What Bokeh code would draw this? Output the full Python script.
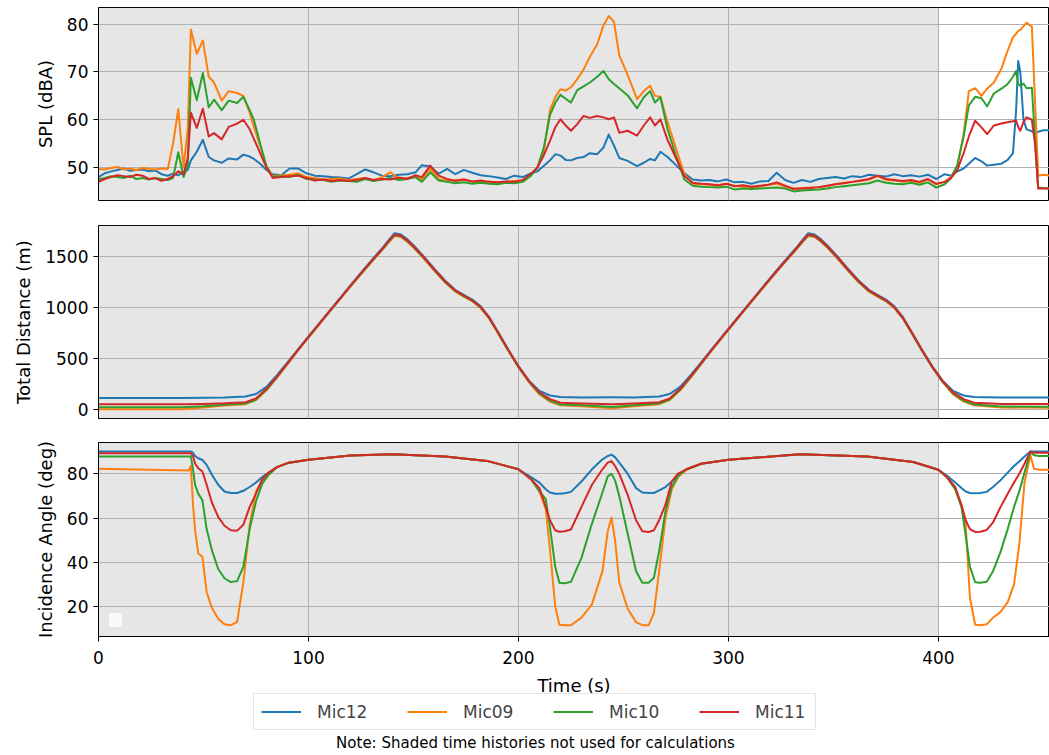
from bokeh.plotting import figure
from bokeh.models import Range1d, FixedTicker, BoxAnnotation, Legend, LegendItem, Label
from bokeh.layouts import column
from bokeh.embed import file_html
from bokeh.resources import INLINE

mics = ["Mic12", "Mic09", "Mic10", "Mic11"]
colors = ["#1f77b4", "#ff7f0e", "#2ca02c", "#d62728"]

x_ticks = [0, 100, 200, 300, 400]
spl_ticks = [50, 60, 70, 80]
dist_ticks = [0, 500, 1000, 1500]
ang_ticks = [20, 40, 60, 80]
shade_start = 0
shade_end = 400
x_label = "Time (s)"
note = "Note: Shaded time histories not used for calculations"

# ---------------- SPL (dBA) ----------------
t_spl = [0, 3, 6, 9, 12, 15, 18, 21, 24, 27,
         30, 33, 35.5, 38, 40.5, 42.5, 44, 46.8, 49.7, 52.5,
         55, 58.7, 62, 66, 69, 72, 74, 77, 80, 83,
         87, 91, 95, 99, 103, 107, 111, 115, 119, 123,
         127, 131, 135, 139, 143, 147, 151, 154, 158, 162,
         166, 170, 174, 178, 182, 186, 190, 194, 198, 202,
         206, 209, 212, 215, 217.6, 220, 222.5, 225, 228, 231,
         234, 237.5, 240.5, 243, 245.5, 248, 252, 256.5, 259.7, 262.7,
         265, 267.6, 271, 275, 279, 283, 287, 291, 295, 299,
         303, 307, 311, 315, 319, 323, 327, 331, 335, 339,
         343, 347, 351, 355, 359, 363, 367, 371, 375, 379,
         383, 387, 391, 395, 399, 403, 406, 409, 412, 414.5,
         417.5, 420.5, 423.2, 426.4, 430, 433, 435.5, 437, 438, 439,
         440.5, 442, 444.5, 446, 447.5, 450, 453]

spl_mic12 = [48.0, 48.8, 49.2, 49.5, 49.8, 49.3, 49.5, 49.6, 49.2, 49.4,
             48.6, 48.3, 48.7, 48.4, 49.0, 49.5, 51.5, 53.3, 55.8, 52.2,
             51.5, 51.0, 51.9, 51.7, 52.7, 52.3, 51.8, 50.8, 49.5, 48.6,
             48.4, 49.8, 49.8, 48.8, 48.3, 48.2, 48.0, 47.9, 47.7, 48.6,
             49.6, 49.0, 48.3, 48.2, 48.5, 48.6, 49.0, 50.5, 50.2, 48.7,
             49.7, 48.6, 49.5, 48.9, 48.4, 48.2, 47.9, 47.6, 48.3, 48.0,
             48.8, 49.2, 50.3, 51.5, 52.8, 52.5, 51.6, 51.5, 52.0, 52.2,
             53.0, 52.8, 54.2, 56.9, 54.6, 52.0, 51.4, 50.3, 51.0, 51.8,
             51.5, 53.3, 52.2, 50.5, 48.8, 47.5, 47.3, 47.4, 47.1, 47.5,
             46.9, 47.0, 46.6, 47.1, 47.2, 48.9, 47.4, 46.8, 47.4, 47.0,
             47.6, 47.8, 48.0, 47.7, 48.2, 48.0, 48.5, 48.3, 48.1, 48.6,
             48.2, 48.4, 48.1, 48.5, 47.6, 48.6, 48.3, 49.2, 49.8, 50.8,
             52.0, 51.3, 50.4, 50.6, 50.8, 51.6, 53.0, 62.0, 72.3, 70.0,
             60.0, 58.0, 57.6, 57.2, 57.5, 57.8, 57.8]

spl_mic09 = [49.7, 49.6, 49.9, 50.1, 49.6, 49.8, 49.5, 49.9, 49.7, 49.6,
             49.8, 49.7, 55.0, 62.2, 50.0, 58.0, 78.9, 73.8, 76.6, 69.0,
             67.8, 64.0, 66.0, 65.6, 65.0, 61.5, 58.5, 54.5, 50.3, 48.2,
             48.4, 48.5, 48.8, 48.0, 47.8, 47.5, 47.6, 47.7, 47.4, 47.6,
             47.8, 47.3, 48.0, 49.0, 47.6, 47.8, 48.0, 47.6, 49.7, 47.6,
             47.2, 47.4, 47.5, 47.0, 46.9, 47.1, 46.8, 47.0, 47.2, 47.3,
             48.5, 50.0, 53.0, 62.0, 64.8, 66.4, 66.1, 66.8, 68.5, 70.5,
             73.2, 75.8, 79.8, 81.7, 80.5, 73.5, 69.4, 64.3, 66.0, 67.1,
             65.0, 64.8, 59.5, 54.0, 48.6, 46.6, 46.5, 46.4, 46.2, 46.6,
             46.2, 46.0, 45.9, 46.0, 46.4, 46.6, 46.0, 45.6, 45.7, 45.8,
             45.9, 46.1, 46.5, 46.8, 47.0, 47.2, 47.5, 48.2, 47.4, 47.3,
             47.0, 47.2, 46.8, 47.5, 46.5, 47.0, 48.0, 50.3, 57.0, 66.0,
             66.6, 65.0, 66.5, 67.8, 70.7, 74.5, 77.3, 78.0, 78.6, 78.8,
             79.6, 80.3, 79.5, 64.0, 48.3, 48.5, 48.3]

spl_mic10 = [47.5, 47.8, 48.2, 48.0, 47.8, 48.3, 47.6, 47.8, 47.5, 47.8,
             47.6, 47.4, 47.8, 53.2, 48.0, 50.5, 68.8, 64.1, 69.8, 62.6,
             64.2, 62.0, 64.0, 63.5, 64.8, 62.0, 60.0, 55.0, 50.2, 48.0,
             48.2, 48.0, 48.5, 47.6, 47.5, 47.4, 47.0, 47.3, 47.2, 47.0,
             47.6, 47.2, 47.5, 47.8, 47.4, 47.6, 48.0, 47.0, 49.0, 47.3,
             47.0, 46.7, 46.9, 46.6, 46.8, 46.6, 46.5, 46.8, 46.7, 47.0,
             48.3, 50.0, 54.0, 61.0, 63.6, 65.2, 64.4, 63.6, 66.2, 67.0,
             67.8, 69.0, 70.2, 68.5, 67.5, 66.6, 65.1, 62.4, 64.7, 66.0,
             63.6, 64.7, 58.0, 52.5, 47.5, 46.2, 46.0, 45.9, 45.8, 46.0,
             45.4, 45.6, 45.5, 45.6, 45.7, 45.8, 45.6, 45.0, 45.2, 45.3,
             45.4, 45.6, 45.9, 46.1, 46.3, 46.5, 46.7, 47.3, 46.8, 46.6,
             46.5, 46.8, 46.4, 46.9, 45.8, 46.5, 47.8, 50.5, 56.5, 63.0,
             64.8, 64.5, 62.8, 65.5, 66.5, 67.5, 69.0, 70.2, 67.5, 67.1,
             67.6, 66.6, 66.7, 56.0, 45.8, 45.7, 45.6]

spl_mic11 = [47.0, 47.6, 48.0, 48.4, 48.2, 48.0, 48.5, 48.3, 47.6, 47.8,
             47.2, 47.6, 48.2, 49.2, 48.6, 52.0, 61.5, 58.3, 62.3, 56.5,
             57.2, 55.9, 58.5, 59.2, 60.0, 58.0, 56.0, 53.0, 50.0, 47.8,
             48.0, 48.2, 48.3, 47.8, 47.3, 47.5, 47.2, 47.4, 47.2, 47.4,
             47.8, 47.4, 47.6, 47.5, 47.9, 47.6, 48.4, 48.0, 50.4, 48.3,
             47.6, 47.2, 47.5, 47.1, 47.3, 47.0, 46.9, 47.1, 47.0, 47.4,
             48.7, 50.0, 52.5, 55.6, 58.5, 60.1, 58.8, 57.7, 59.1, 60.8,
             60.4, 60.8, 60.5, 60.1, 60.5, 57.3, 57.7, 56.7, 58.8, 60.5,
             58.8, 60.1, 55.8, 52.0, 48.2, 46.8, 46.6, 46.5, 46.3, 46.6,
             46.1, 46.3, 46.0, 46.2, 46.4, 46.9, 46.2, 45.5, 45.6, 45.7,
             45.9, 46.2, 46.5, 46.7, 47.0, 47.3, 47.6, 48.3, 47.6, 47.4,
             47.2, 47.4, 47.0, 47.6, 46.6, 47.0, 47.8, 49.5, 53.0, 56.5,
             59.8, 58.4, 57.0, 58.8, 59.2, 59.5, 59.7, 59.8, 58.5, 57.7,
             59.5, 60.5, 60.0, 55.0, 45.6, 45.6, 45.6]

# ---------------- Total distance (m) ----------------
t_dist = [0, 40, 50, 60, 70, 75, 80, 85, 90, 95,
          100, 105, 110, 115, 120, 125, 130, 135, 138, 141,
          144, 147, 150, 155, 160, 165, 170, 175, 178, 182,
          186, 190, 195, 200, 205, 210, 215, 220, 230, 245,
          255, 267, 272, 277, 282, 287, 292, 297, 302, 307,
          312, 317, 322, 327, 332, 335, 338, 341, 344, 347,
          352, 357, 362, 367, 372, 375, 379, 383, 387, 392,
          397, 402, 407, 412, 417, 430, 453]

dist_mic12 = [115, 115, 117, 121, 130, 155, 225, 340, 465, 592,
              718, 843, 968, 1093, 1218, 1342, 1462, 1578, 1655, 1728,
              1715, 1670, 1610, 1498, 1378, 1265, 1172, 1112, 1078, 1012,
              910, 772, 595, 428, 285, 185, 140, 125, 120, 122,
              120, 130, 155, 225, 340, 465, 592, 718, 843, 968,
              1093, 1218, 1342, 1462, 1578, 1655, 1728, 1715, 1670, 1610,
              1498, 1378, 1265, 1172, 1112, 1078, 1012, 910, 772, 595,
              428, 285, 185, 140, 125, 120, 120]

dist_mic09 = [5, 6, 22, 42, 55, 95, 190, 315, 448, 580,
              706, 832, 957, 1082, 1205, 1327, 1446, 1560, 1633, 1700,
              1690, 1645, 1588, 1478, 1360, 1248, 1156, 1096, 1062, 996,
              895, 758, 582, 416, 270, 150, 80, 45, 35, 15,
              35, 55, 95, 190, 315, 448, 580, 706, 832, 957,
              1082, 1205, 1327, 1446, 1560, 1633, 1700, 1690, 1645, 1588,
              1478, 1360, 1248, 1156, 1096, 1062, 996, 895, 758, 582,
              416, 270, 150, 80, 45, 22, 20]

dist_mic10 = [25, 25, 35, 50, 62, 100, 195, 320, 452, 584,
              710, 836, 960, 1085, 1209, 1331, 1450, 1565, 1640, 1708,
              1698, 1652, 1595, 1484, 1365, 1253, 1160, 1100, 1066, 1000,
              899, 762, 586, 420, 275, 160, 90, 52, 45, 28,
              45, 62, 100, 195, 320, 452, 584, 710, 836, 960,
              1085, 1209, 1331, 1450, 1565, 1640, 1708, 1698, 1652, 1595,
              1484, 1365, 1253, 1160, 1100, 1066, 1000, 899, 762, 586,
              420, 275, 160, 90, 52, 32, 30]

dist_mic11 = [55, 55, 58, 64, 75, 110, 205, 325, 455, 587,
              713, 838, 963, 1088, 1212, 1335, 1455, 1570, 1645, 1714,
              1703, 1658, 1600, 1490, 1370, 1258, 1165, 1105, 1071, 1005,
              903, 766, 590, 423, 280, 170, 105, 70, 62, 55,
              62, 75, 110, 205, 325, 455, 587, 713, 838, 963,
              1088, 1212, 1335, 1455, 1570, 1645, 1714, 1703, 1658, 1600,
              1490, 1370, 1258, 1165, 1105, 1071, 1005, 903, 766, 590,
              423, 280, 170, 105, 70, 58, 58]

# ---------------- Incidence angle (deg) ----------------
t_ang = [0, 43, 44, 45, 46, 47.5, 49.5, 51.5, 54, 57,
         60, 63, 66, 69, 72, 75, 78, 81, 85, 90,
         100, 120, 140, 165, 185, 200, 206, 210, 213, 215,
         217.5, 219.5, 222, 225, 230, 235, 240, 242.5, 244.3, 246,
         248, 252, 256, 259, 262, 264.5, 267, 270, 273, 276,
         280, 287, 300, 334, 366, 388, 400, 404, 408, 411,
         413, 415, 417.5, 420, 423, 426, 429.5, 433, 436, 438.5,
         441, 443.8, 445.5, 448, 453]

ang_mic12 = [90.0, 90.0, 90.0, 89.5, 88.0, 87.0, 86.2, 84.0, 79.5, 75.0,
             72.0, 71.3, 71.3, 72.3, 74.0, 76.0, 78.5, 80.5, 83.0, 84.8,
             86.3, 88.2, 88.8, 87.8, 85.8, 82.0, 78.5, 76.0, 73.0, 71.5,
             71.0, 71.0, 71.2, 71.8, 76.5, 82.0, 86.5, 88.0, 88.6, 87.5,
             85.0, 80.0, 73.5, 71.5, 71.3, 71.3, 72.5, 74.0, 76.5, 79.0,
             82.0, 84.5, 86.3, 88.8, 87.8, 85.3, 81.8, 79.2, 76.0, 73.5,
             72.0, 71.3, 71.2, 71.3, 71.8, 74.0, 77.0, 80.5, 83.5, 85.5,
             87.8, 90.0, 90.0, 90.0, 90.0]

ang_mic09 = [82.3, 81.5, 83.5, 66.0, 54.4, 44.0, 42.5, 26.5, 19.5, 14.5,
             12.0, 11.6, 13.0, 31.0, 57.0, 72.0, 77.0, 79.5, 83.0, 84.8,
             86.3, 88.2, 88.8, 87.8, 85.8, 82.0, 77.5, 72.0, 64.0, 46.0,
             20.0, 11.8, 11.6, 11.6, 15.0, 21.0, 36.0, 54.0, 60.2, 50.0,
             31.0, 19.0, 13.0, 11.6, 11.6, 17.0, 36.0, 60.0, 73.0, 78.5,
             81.8, 84.5, 86.3, 88.8, 87.8, 85.3, 81.8, 78.5, 73.0, 65.0,
             57.0, 24.0, 11.8, 11.6, 12.0, 15.0, 17.5, 22.0, 30.0, 48.0,
             76.0, 88.3, 82.3, 81.8, 81.8]

ang_mic10 = [87.8, 87.8, 87.8, 82.0, 75.0, 71.0, 68.0, 55.0, 45.5, 37.0,
             32.8, 31.1, 31.5, 38.0, 55.0, 67.5, 75.5, 79.5, 83.0, 84.8,
             86.3, 88.2, 88.8, 87.8, 85.8, 82.0, 77.5, 72.0, 68.5, 56.0,
             38.0, 30.8, 30.5, 31.2, 42.0, 57.5, 71.5, 78.8, 80.0, 77.0,
             70.0, 53.0, 36.0, 30.8, 30.8, 33.0, 45.0, 63.0, 74.0, 79.0,
             82.0, 84.5, 86.3, 88.8, 87.8, 85.3, 81.8, 78.5, 73.0, 65.0,
             52.0, 38.0, 31.0, 30.8, 31.2, 36.0, 44.5, 55.0, 65.0, 72.0,
             80.5, 89.8, 88.3, 88.0, 88.0]

ang_mic11 = [89.2, 89.2, 89.2, 88.0, 84.5, 82.5, 81.0, 75.0, 67.0, 60.5,
             56.5, 54.5, 54.3, 57.0, 65.0, 71.0, 77.5, 80.5, 83.0, 84.8,
             86.3, 88.2, 88.8, 87.8, 85.8, 82.0, 77.5, 73.5, 65.0, 59.0,
             54.5, 53.8, 54.0, 54.8, 65.0, 75.0, 82.0, 85.0, 85.7, 83.5,
             80.0, 70.5, 59.0, 54.0, 53.7, 54.5, 59.0, 66.0, 76.5, 80.0,
             82.0, 84.5, 86.3, 88.8, 87.8, 85.3, 81.8, 78.5, 74.0, 66.0,
             59.0, 55.0, 53.7, 53.8, 54.6, 58.0, 64.8, 71.0, 76.0, 80.0,
             84.5, 90.0, 89.5, 89.5, 89.5]

spl_series = [spl_mic12, spl_mic09, spl_mic10, spl_mic11]
dist_series = [dist_mic12, dist_mic09, dist_mic10, dist_mic11]
ang_series = [ang_mic12, ang_mic09, ang_mic10, ang_mic11]

FONT = "DejaVu Sans"
x_range = Range1d(0, 452.9)


def make_panel(t, series, y_range, yticks, ylabel, frame_h, border_top, border_bottom, show_x):
    p = figure(frame_width=951, frame_height=frame_h, x_range=x_range,
               y_range=Range1d(*y_range), output_backend="svg", toolbar_location=None,
               min_border_left=98, min_border_right=0,
               min_border_top=border_top, min_border_bottom=border_bottom)
    p.background_fill_color = "white"
    p.border_fill_color = "white"
    p.outline_line_color = "black"
    p.outline_line_width = 1
    p.outline_line_alpha = 1

    shade = BoxAnnotation(left=shade_start, right=shade_end, fill_color="#808080",
                          fill_alpha=0.2, line_alpha=0, level="image")
    p.add_layout(shade)

    p.xaxis.ticker = FixedTicker(ticks=x_ticks)
    p.yaxis.ticker = FixedTicker(ticks=yticks)
    for g in (p.xgrid, p.ygrid):
        g.grid_line_color = "#b0b0b0"
        g.grid_line_width = 1
        g.level = "underlay"

    for ax in (p.xaxis, p.yaxis):
        ax.axis_line_color = "black"
        ax.major_tick_line_color = "black"
        ax.major_tick_out = 5
        ax.major_tick_in = 0
        ax.minor_tick_line_color = None
        ax.major_label_text_font = FONT
        ax.major_label_text_font_size = "17px"
        ax.major_label_text_color = "black"
        ax.axis_label_text_font = FONT
        ax.axis_label_text_font_size = "18px"
        ax.axis_label_text_font_style = "normal"
        ax.axis_label_text_color = "black"
        ax.axis_label_standoff = 8
    p.yaxis.major_label_standoff = 5
    p.xaxis.major_label_standoff = 9

    p.yaxis.axis_label = ylabel
    if not show_x:
        p.xaxis.visible = False

    renderers = []
    for vals, c in zip(series, colors):
        r = p.line(t, vals, line_color=c, line_width=2, line_join="round")
        renderers.append(r)
    return p, renderers


p1, _ = make_panel(t_spl, spl_series, (43.1, 83.5), spl_ticks, "SPL (dBA)", 193, 7, 25, False)
p2, _ = make_panel(t_dist, dist_series, (-85, 1803), dist_ticks, "Total Distance (m)", 193, 0, 24, False)
p3, r3 = make_panel(t_ang, ang_series, (6.5, 94.1), ang_ticks, "Incidence Angle (deg)", 194, 0, 36, True)

# empty legend box left in the lower-left corner of the original figure
empty_box = BoxAnnotation(left=10, right=24, bottom=9, top=24,
                          left_units="screen", right_units="screen",
                          top_units="screen", bottom_units="screen",
                          fill_color="white", fill_alpha=0.8,
                          line_color="#cccccc", line_width=1)
p3.add_layout(empty_box)

# ---- bottom strip: x-axis title, legend and note (page-pixel coordinates) ----
p4 = figure(width=1049, height=80, x_range=Range1d(98, 1049), y_range=Range1d(80, 0),
            output_backend="svg", toolbar_location=None,
            x_axis_location=None, y_axis_location=None, min_border=0)
p4.outline_line_color = None
p4.grid.visible = False
p4.background_fill_color = "white"
p4.border_fill_color = "white"

# legend proxy lines, kept outside the visible strip so only their legend swatches show
proxies = [p4.line(x=[0, 1], y=[-50, -50], line_color=c, line_width=2) for c in colors]

p4.add_layout(Label(x=573.5, y=13, text=x_label, text_align="center", text_baseline="middle",
                    text_font=FONT, text_font_size="18px", text_color="black"))

legend = Legend(items=[LegendItem(label=m, renderers=[r]) for m, r in zip(mics, proxies)],
                orientation="horizontal", location=(155, 22), margin=0, padding=7,
                spacing=37, glyph_width=40, glyph_height=21, label_height=21,
                label_width=53, label_standoff=16,
                label_text_font=FONT, label_text_font_size="17px",
                border_line_color="#cccccc", border_line_width=1,
                background_fill_color="white", background_fill_alpha=0.8)
p4.add_layout(legend)

p4.add_layout(Label(x=535, y=70, text=note, text_align="center", text_baseline="middle",
                    text_font=FONT, text_font_size="15px", text_color="black"))

layout = column(p1, p2, p3, p4)
open("out.html", "w").write(file_html(layout, INLINE))
